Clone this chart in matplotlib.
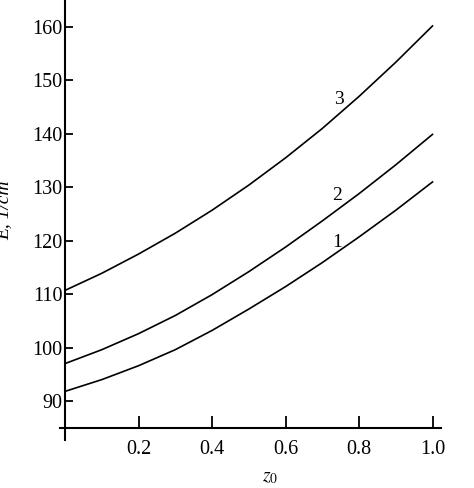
import matplotlib
matplotlib.use("Agg")
import matplotlib.pyplot as plt

z = [0.0, 0.1, 0.2, 0.3, 0.4, 0.5, 0.6, 0.7, 0.8, 0.9, 1.0]
E1 = [91.8, 94.0, 96.6, 99.6, 103.2, 107.2, 111.4, 115.9, 120.7, 125.7, 131.0]
E2 = [97.0, 99.6, 102.6, 106.0, 109.9, 114.2, 118.8, 123.7, 128.8, 134.2, 139.9]
E3 = [110.7, 113.9, 117.5, 121.4, 125.7, 130.4, 135.5, 141.0, 147.0, 153.4, 160.2]
curve_labels = ["1", "2", "3"]
label_pos = [(0.74, 119.6), (0.74, 128.4), (0.745, 146.4)]
xticks = [0.2, 0.4, 0.6, 0.8, 1.0]
xtick_labels = ["0.2", "0.4", "0.6", "0.8", "1.0"]
yticks = [90, 100, 110, 120, 130, 140, 150, 160]

plt.rcParams['font.family'] = ['Liberation Serif', 'DejaVu Serif']
plt.rcParams['mathtext.fontset'] = 'stix'

W, H = 474, 488
fig = plt.figure(figsize=(W/100, H/100), dpi=100)
x0, x1 = 60, 441
y0, y1 = 0, 440
ax = fig.add_axes([x0/W, 1 - y1/H, (x1-x0)/W, (y1-y0)/H])

px_per_z = 367.5
px_per_E = 5.343
ax.set_xlim(-(65-60)/px_per_z, 1 + (441-432.5)/px_per_z)
ax.set_ylim(90 - (440-401)/px_per_E, 160 + 27/px_per_E)

for E in (E1, E2, E3):
    ax.plot(z, E, color='black', lw=1.2, solid_joinstyle='round')

for lab, (lx, ly) in zip(curve_labels, label_pos):
    ax.text(lx, ly, lab, fontsize=14, ha='center', va='center')

for s in ('top', 'right'):
    ax.spines[s].set_visible(False)
ax.spines['left'].set_position(('data', 0))
ax.spines['bottom'].set_position(('data', 85))
ax.spines['left'].set_linewidth(1.5)
ax.spines['bottom'].set_linewidth(1.5)

ax.set_xticks(xticks)
ax.set_xticklabels(xtick_labels)
ax.set_yticks(yticks)
ax.tick_params(axis='x', direction='in', length=9, width=1.3, pad=9, labelsize=14.5)
ax.tick_params(axis='y', direction='in', length=6, width=1.3, pad=2, labelsize=14.5)

fig.text(270/W, 1 - 478/H, r'$z_{\mathit{0}}$', fontsize=14, ha='center', va='center')
fig.text(12/W, 1 - 210/H, 'E, 1/cm', fontsize=14, style='italic',
         rotation=90, ha='right', va='center')

fig.savefig('out.png', dpi=100)
